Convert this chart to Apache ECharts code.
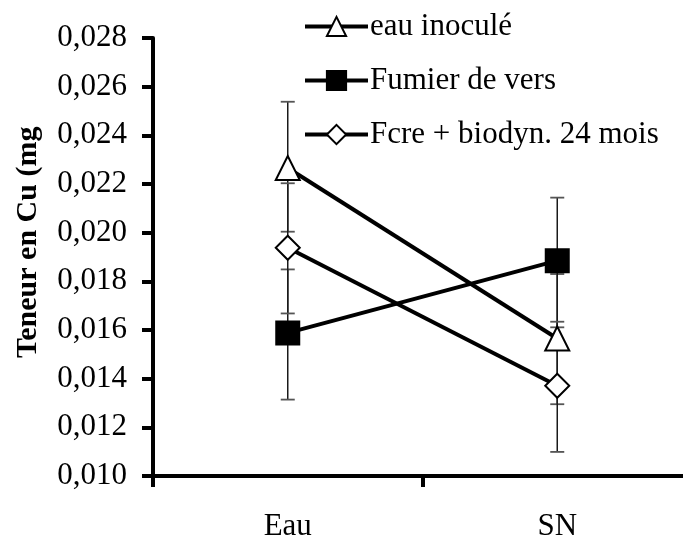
<!DOCTYPE html>
<html>
<head>
<meta charset="utf-8">
<script src="https://cdn.jsdelivr.net/npm/echarts@6/dist/echarts.min.js"></script>
<style>
html,body{margin:0;padding:0;background:#fff;}
#chart{width:683px;height:539px;}
</style>
</head>
<body>
<div id="chart"></div>
<script>
// ---- data ----
const categories = ['Eau', 'SN'];
const seriesNames = ['eau inoculé', 'Fumier de vers', 'Fcre + biodyn. 24 mois'];

const eauInocule     = [0.02266, 0.01565];
const eauInoculeLow  = [0.02004, 0.01295];
const eauInoculeHigh = [0.02538, 0.01830];

const fumier     = [0.01588, 0.01885];
const fumierLow  = [0.01314, 0.01611];
const fumierHigh = [0.01849, 0.02144];

const fcre     = [0.01938, 0.01371];
const fcreLow  = [0.01668, 0.01099];
const fcreHigh = [0.02203, 0.01634];

const yTicks = { min: 0.010, max: 0.028, interval: 0.002 };
const yTitle = 'Teneur en Cu (mg)';

// ---- chart ----
const FONT = '"Liberation Serif", "Times New Roman", serif';
const FS = 31;
const chart = echarts.init(document.getElementById('chart'), null, { renderer: 'canvas' });

function errData(low, high) {
  return categories.map((c, i) => [i, low[i], high[i]]);
}
function errorSeries(name, low, high) {
  return {
    type: 'custom',
    name: name,
    z: 1,
    silent: true,
    data: errData(low, high),
    renderItem: function (params, api) {
      const x = api.value(0);
      const lo = api.coord([x, api.value(1)]);
      const hi = api.coord([x, api.value(2)]);
      const cap = 7;
      const style = { stroke: '#1a1a1a', lineWidth: 1.5 };
      return {
        type: 'group',
        children: [
          { type: 'line', shape: { x1: lo[0], y1: lo[1], x2: hi[0], y2: hi[1] }, style: style },
          { type: 'line', shape: { x1: lo[0] - cap, y1: lo[1], x2: lo[0] + cap, y2: lo[1] }, style: { stroke: '#555', lineWidth: 1.8 } },
          { type: 'line', shape: { x1: hi[0] - cap, y1: hi[1], x2: hi[0] + cap, y2: hi[1] }, style: { stroke: '#555', lineWidth: 1.8 } }
        ]
      };
    }
  };
}
function lineSeries(name, data, symbol, fill, size, z) {
  return {
    type: 'line',
    name: name,
    data: data,
    z: z,
    symbol: symbol,
    symbolSize: size,
    showSymbol: true,
    lineStyle: { color: '#000', width: 4 },
    itemStyle: { color: fill, borderColor: '#000', borderWidth: 2 },
    emphasis: { disabled: true },
    animation: false
  };
}

const option = {
  backgroundColor: '#fff',
  animation: false,
  grid: { left: 153, right: -9, top: 38, bottom: 63, containLabel: false, outerBoundsMode: 'none' },
  legend: {
    orient: 'vertical',
    left: 303,
    top: 11,
    padding: 0,
    itemWidth: 63,
    itemHeight: 24,
    itemGap: 23,
    data: seriesNames,
    lineStyle: { width: 4, color: '#000' },
    textStyle: { fontFamily: FONT, fontSize: FS, color: '#000', padding: [0, 0, 0, -3] },
    selectedMode: false
  },
  xAxis: {
    type: 'category',
    data: categories,
    boundaryGap: true,
    axisLine: { lineStyle: { color: '#000', width: 4 } },
    axisTick: { show: true, alignWithLabel: false, length: 11, lineStyle: { color: '#000', width: 4 } },
    axisLabel: { fontFamily: FONT, fontSize: FS, color: '#000', margin: 35 },
    splitLine: { show: false }
  },
  yAxis: {
    type: 'value',
    min: yTicks.min,
    max: yTicks.max,
    interval: yTicks.interval,
    axisLine: { show: true, lineStyle: { color: '#000', width: 4 } },
    axisTick: { show: true, length: 11, lineStyle: { color: '#000', width: 4 } },
    axisLabel: {
      fontFamily: FONT, fontSize: FS, color: '#000', margin: 26,
      formatter: v => v.toFixed(3).replace('.', ',')
    },
    splitLine: { show: false }
  },
  graphic: [{
    type: 'text',
    x: 28,
    y: 358,
    rotation: Math.PI / 2,
    style: {
      text: yTitle,
      font: 'bold 30px ' + FONT,
      fill: '#000',
      align: 'left',
      verticalAlign: 'middle',
      width: 241,
      overflow: 'truncate',
      ellipsis: ''
    }
  }],
  series: [
    errorSeries('err1', eauInoculeLow, eauInoculeHigh),
    errorSeries('err2', fumierLow, fumierHigh),
    errorSeries('err3', fcreLow, fcreHigh),
    lineSeries(seriesNames[0], eauInocule, 'triangle', '#fff', 24, 3),
    lineSeries(seriesNames[1], fumier, 'rect', '#000', 23, 3),
    lineSeries(seriesNames[2], fcre, 'diamond', '#fff', 24, 3)
  ]
};
chart.setOption(option);
</script>
</body>
</html>
